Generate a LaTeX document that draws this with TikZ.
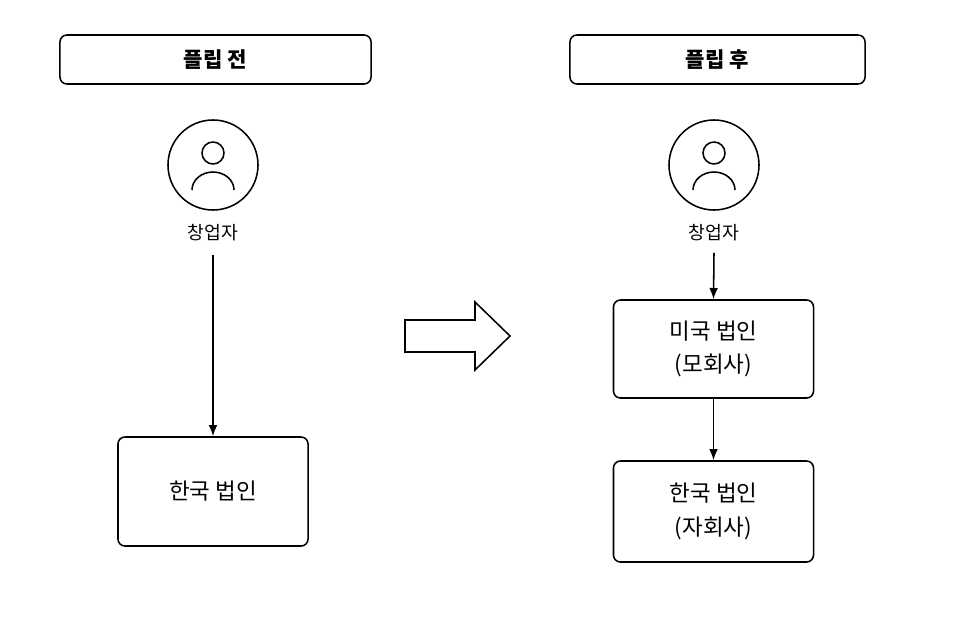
\documentclass[tikz,border=0pt]{standalone}
\usepackage{fontspec}
\setmainfont{Noto Sans CJK KR}
\usetikzlibrary{positioning,arrows.meta}

\begin{document}
\begin{tikzpicture}[x=0.025cm,y=-0.025cm,line width=1.1pt,
    head/.style={draw,rounded corners=5pt,minimum height=1.225cm,font=\fontsize{15}{18}\selectfont\bfseries},
    corp/.style={draw,rounded corners=5pt,minimum width=5.0cm,align=center,font=\fontsize{16}{24}\selectfont},
    who/.style={draw,circle,minimum size=2.25cm},
    lbl/.style={font=\fontsize{13}{15}\selectfont},
    link/.style={-{Latex[length=2.8mm,width=2.2mm]}}]
  \useasboundingbox (0,0) rectangle (966,644);
  % before
  \node[head,minimum width=7.775cm] (hb) at (215.5,59.5) {플립 전};
  \node[who] (pb) at (213,165) {};
  \node[lbl] (nb) at (213,233) {창업자};
  \node[corp,minimum width=4.75cm,minimum height=2.725cm] (kb) at (213,491.5) {한국 법인};
  \draw[link] (nb.south) ++(0,8) coordinate (sb) -- (kb.north);
  % after
  \node[head,minimum width=7.375cm] (ha) at (717.5,59.5) {플립 후};
  \node[who] (pa) at (714,165) {};
  \node[lbl] (na) at (714,233) {창업자};
  \node[corp,minimum height=2.45cm] (us) at (713.5,349) {미국 법인\\(모회사)};
  \node[corp,minimum height=2.525cm] (ka) at (713.5,511.5) {한국 법인\\(자회사)};
  \draw[link] (na.south) ++(0,6) coordinate (sa) -- (us.north);
  \draw[link] (us) -- (ka);
  % person icons
  \foreach \p in {pb,pa}{
    \draw (\p) ++(0,-12) circle (11);
    \draw (\p) ++(-21,25) arc (180:360:21 and 18);
  }
  % flip arrow
  \draw (405,320) -- (475,320) -- (475,302) -- (510,336) -- (475,370) -- (475,352) -- (405,352) -- cycle;
\end{tikzpicture}
\end{document}
